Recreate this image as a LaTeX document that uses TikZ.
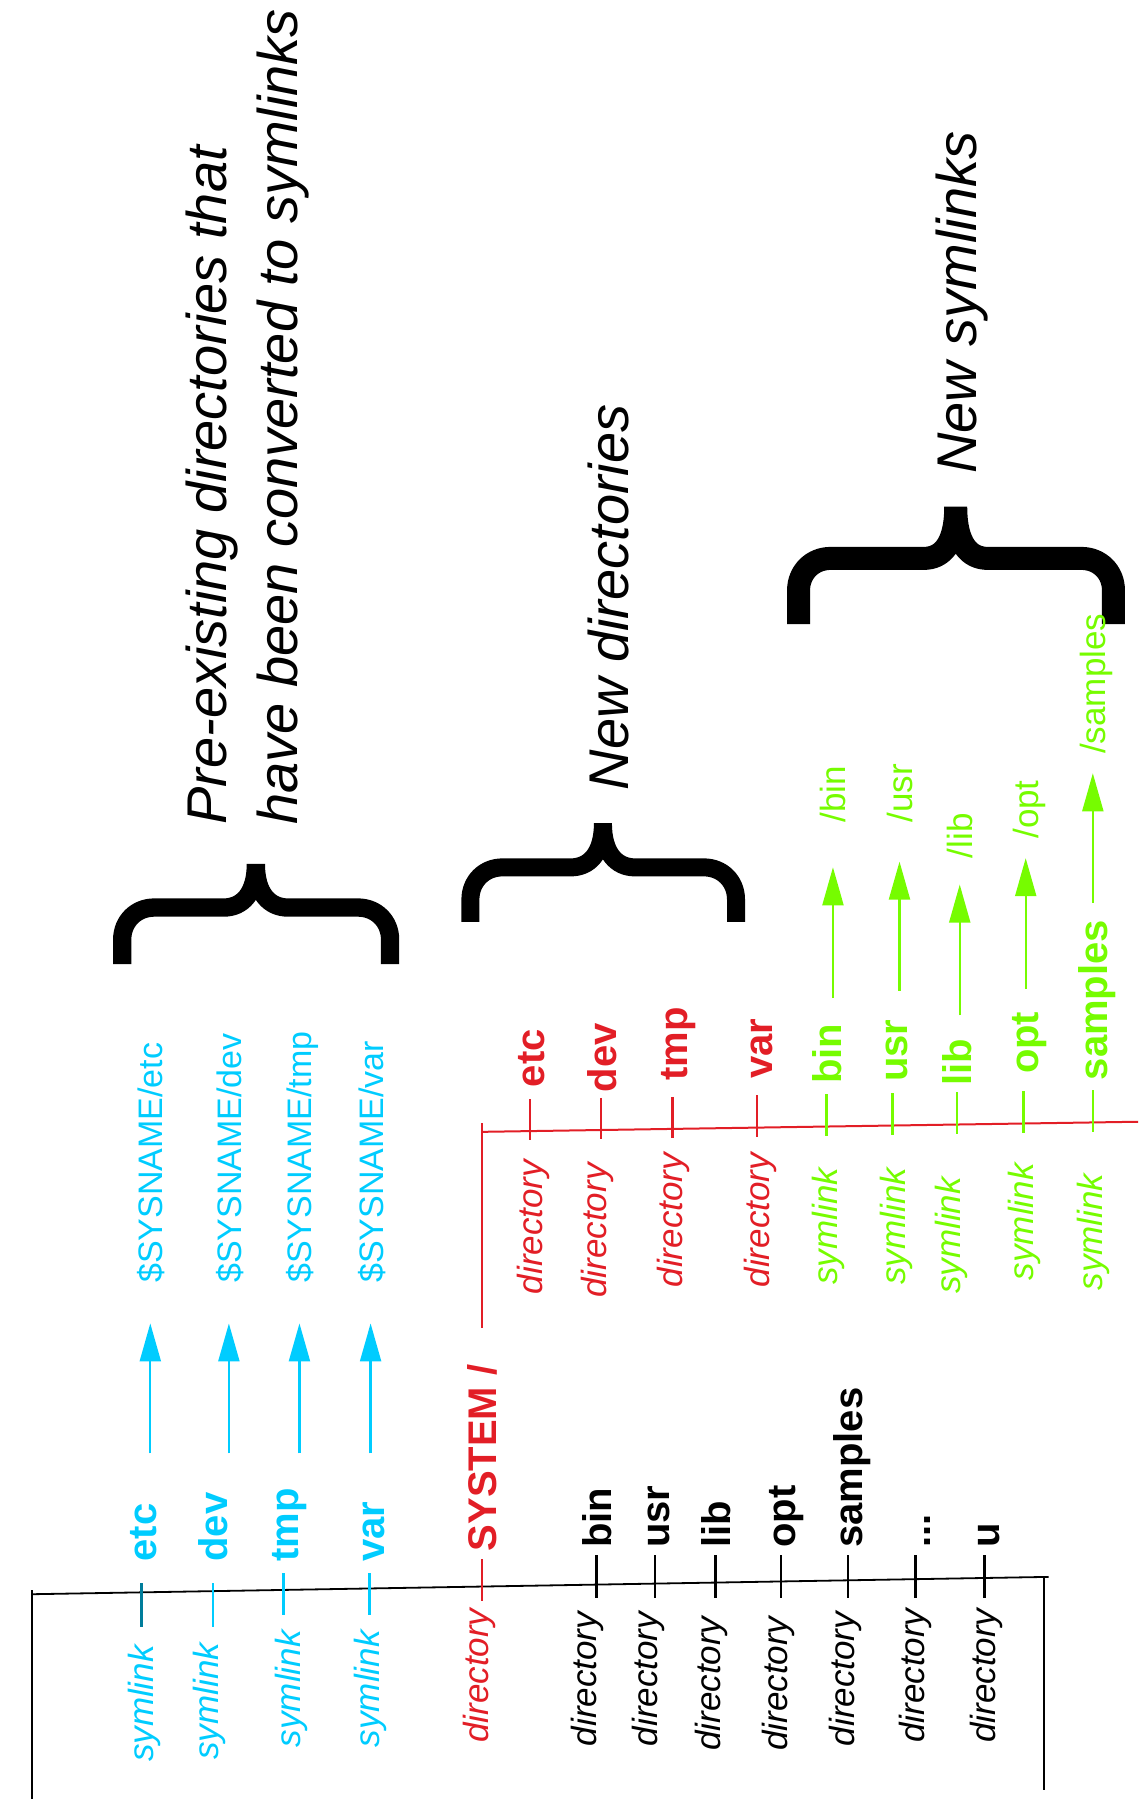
\documentclass[tikz,border=0pt]{standalone}
\usepackage{fontspec}
\setmainfont{Liberation Sans}
\usetikzlibrary{arrows.meta}
\definecolor{cy}{RGB}{0,204,255}
\definecolor{cydk}{RGB}{0,125,155}
\definecolor{rd}{RGB}{226,30,38}
\definecolor{gr}{RGB}{118,252,0}
\newcommand\curlybrace[7]{% L R C B Y T width
  \draw[bracestyle, line width=#7] (#1,#4) -- (#1,#5+28)
    .. controls (#1,#5+12) and (#1+12,#5) .. (#1+28,#5)
    -- (#3-28,#5)
    .. controls (#3-12,#5) and (#3,#5-12) .. (#3,#6)
    .. controls (#3,#5-12) and (#3+12,#5) .. (#3+28,#5)
    -- (#2-28,#5)
    .. controls (#2-12,#5) and (#2,#5+12) .. (#2,#5+28)
    -- (#2,#4);}
\begin{document}
\begin{tikzpicture}[x=1.1472pt, y=-1.1472pt,
  nm/.style={rotate=90, anchor=west, inner sep=0pt, outer sep=0pt, text height=29.6pt, text depth=0pt, font=\fontsize{40}{48}\selectfont\bfseries},
  ty/.style={rotate=90, anchor=east, inner sep=0pt, outer sep=0pt, text height=25.5pt, text depth=7.4pt, font=\fontsize{35}{42}\selectfont\itshape},
  tg/.style={rotate=90, anchor=west, inner sep=0pt, outer sep=0pt, text height=25pt, text depth=0pt, font=\fontsize{35}{42}\selectfont},
  tgc/.style={tg, font=\fontsize{34}{41}\selectfont},
  hd/.style={rotate=90, anchor=base west, inner sep=0pt, font=\fontsize{56}{67}\selectfont\itshape},
  tk/.style={line width=2.4pt},
  trunk/.style={line width=1.8pt},
  arr/.style={line width=2.2pt, -{Triangle[length=38pt,width=21pt]}},
  bracestyle/.style={line join=bevel, line cap=butt},
]
\useasboundingbox (0,0) rectangle (992,1568);

% ---------- headings and braces ----------
\node[hd] (h1a) at (197,719) {Pre-existing directories that};
\node[hd] (h1b) at (259,719) {have been converted to symlinks};
\node[hd] (h2) at (547.5,689) {New directories};
\node[hd] (h3) at (851,413) {New symlinks};
\curlybrace{106.5}{340}{223}{840.3}{791}{753.2}{18.3pt}
\curlybrace{410}{641.5}{525.5}{803.6}{756}{717.6}{18pt}
\curlybrace{696}{970.5}{833}{544}{486.7}{441.7}{23pt}

% ---------- black trunk ----------
\coordinate (bTL) at (28,1386);
\coordinate (bBL) at (28,1568);
\coordinate (bHL) at (28,1389.5);
\coordinate (bHR) at (914,1374.4);
\coordinate (bTR) at (910,1374.4);
\coordinate (bBR) at (910,1560);
\draw[trunk] (bTL) -- (bBL);
\draw[trunk] (bHL) -- (bHR);
\draw[trunk] (bTR) -- (bBR);

% ---------- cyan symlinks ----------
\node[nm, cy] (cN1) at (123.4,1361) {etc};
\node[ty, cy] (cT1) at (126,1434) {symlink};
\node[tgc, cy] (cG1) at (131,1118) {\$SYSNAME/etc};
\draw[tk, cydk, shorten <=21.8pt, shorten >=18.4pt] (cN1.west) -- (cN1.west |- cT1.east);
\draw[arr, cy, shorten <=50.3pt, shorten >=40.7pt] (cG1.west |- cN1.east) -- (cG1.west);

\node[nm, cy] (cN2) at (185.5,1361) {dev};
\node[ty, cy] (cT2) at (182.5,1432) {symlink};
\node[tgc, cy] (cG2) at (199.5,1118) {\$SYSNAME/dev};
\draw[tk, cy, shorten <=21.8pt, shorten >=16.1pt] (cN2.west) -- (cN2.west |- cT2.east);
\draw[arr, cy, shorten <=39.2pt, shorten >=40.7pt] (cG2.west |- cN2.east) -- (cG2.west);

\node[nm, cy] (cN3) at (247,1361) {tmp};
\node[ty, cy] (cT3) at (254,1421) {symlink};
\node[tgc, cy] (cG3) at (261,1118) {\$SYSNAME/tmp};
\draw[tk, cy, shorten <=11.5pt, shorten >=14.9pt] (cN3.west) -- (cN3.west |- cT3.east);
\draw[arr, cy, shorten <=34.8pt, shorten >=40.7pt] (cG3.west |- cN3.east) -- (cG3.west);

\node[nm, cy] (cN4) at (322,1361) {var};
\node[ty, cy] (cT4) at (322.6,1421) {symlink};
\node[tgc, cy] (cG4) at (323,1118) {\$SYSNAME/var};
\draw[tk, cy, shorten <=11.5pt, shorten >=14.9pt] (cN4.west) -- (cN4.west |- cT4.east);
\draw[arr, cy, shorten <=48.1pt, shorten >=40.7pt] (cG4.west |- cN4.east) -- (cG4.west);

% ---------- SYSTEM ----------
\node[nm, rd] (sys) at (420,1352) {SYSTEM /};
\node[ty, rd] (sysT) at (417.6,1402) {directory};
\draw[tk, rd, shorten <=8pt, shorten >=8pt] (sys.west) -- (sys.west |- sysT.east);

% ---------- black directories ----------
\node[nm] (k1) at (520,1349) {bin};
\node[ty] (k1t) at (512,1405) {directory};
\draw[tk, shorten <=7.5pt, shorten >=13.8pt] (k1.west) -- (k1.west |- k1t.east);
\node[nm] (k2) at (571,1349) {usr};
\node[ty] (k2t) at (565,1405) {directory};
\draw[tk, shorten <=7.5pt, shorten >=13.8pt] (k2.west) -- (k2.west |- k2t.east);
\node[nm] (k3) at (623.5,1349) {lib};
\node[ty] (k3t) at (620,1409) {directory};
\draw[tk, shorten <=7.5pt, shorten >=18.4pt] (k3.west) -- (k3.west |- k3t.east);
\node[nm] (k4) at (680.5,1349) {opt};
\node[ty] (k4t) at (678.8,1409) {directory};
\draw[tk, shorten <=7.5pt, shorten >=18.4pt] (k4.west) -- (k4.west |- k4t.east);
\node[nm] (k5) at (739,1349) {samples};
\node[ty] (k5t) at (737.3,1405) {directory};
\draw[tk, shorten <=7.5pt, shorten >=13.8pt] (k5.west) -- (k5.west |- k5t.east);
\node[nm] (k6) at (798,1349) {...};
\node[ty] (k6t) at (797.6,1402) {directory};
\draw[tk, shorten <=7.5pt, shorten >=10.3pt] (k6.west) -- (k6.west |- k6t.east);
\node[nm] (k7) at (858,1349) {u};
\node[ty] (k7t) at (860,1402) {directory};
\draw[tk, shorten <=7.5pt, shorten >=10.3pt] (k7.west) -- (k7.west |- k7t.east);

% ---------- red trunk ----------
\coordinate (rTop) at (420,979);
\coordinate (rHL) at (420,986.5);
\coordinate (rHR) at (992,977.7);
\draw[trunk, rd, line width=2pt, shorten <=36.9pt] (sys.east) -- (sys.east |- rTop);
\draw[trunk, rd, line width=2pt] (rHL) -- (rHR);

% ---------- new directories ----------
\node[nm, rd] (r1) at (462,947.5) {etc};
\node[ty, rd] (r1t) at (465,1011) {directory};
\draw[tk, rd, shorten <=11.9pt, shorten >=19.6pt] (r1.west) -- (r1.west |- r1t.east);
\node[nm, rd] (r2) at (524,952) {dev};
\node[ty, rd] (r2t) at (520.4,1014) {directory};
\draw[tk, rd, shorten <=5.6pt, shorten >=24.2pt] (r2.west) -- (r2.west |- r2t.east);
\node[nm, rd] (r3) at (586,942) {tmp};
\node[ty, rd] (r3t) at (587.3,1005) {directory};
\draw[tk, rd, shorten <=16.1pt, shorten >=14.9pt] (r3.west) -- (r3.west |- r3t.east);
\node[nm, rd] (r4) at (660,940) {var};
\node[ty, rd] (r4t) at (662.7,1005) {directory};
\draw[tk, rd, shorten <=17pt, shorten >=16.3pt] (r4.west) -- (r4.west |- r4t.east);

% ---------- new symlinks ----------
\node[nm, gr] (g1) at (720.5,944.5) {bin};
\node[ty, gr] (g1t) at (722,1018) {symlink};
\node[tg, gr] (g1g) at (726,717) {/bin};
\draw[tk, gr, shorten <=10.8pt, shorten >=32.2pt] (g1.west) -- (g1.west |- g1t.east);
\draw[arr, gr, shorten <=25.5pt, shorten >=44.7pt] (g1g.west |- g1.east) -- (g1g.west);

\node[nm, gr] (g2) at (778,943) {usr};
\node[ty, gr] (g2t) at (781.3,1018) {symlink};
\node[tg, gr] (g2g) at (784,717) {/usr};
\draw[tk, gr, shorten <=11.5pt, shorten >=33.3pt] (g2.west) -- (g2.west |- g2t.east);
\draw[arr, gr, shorten <=28.9pt, shorten >=39pt] (g2g.west |- g2.east) -- (g2g.west);

\node[nm, gr] (g3) at (834,946) {lib};
\node[ty, gr] (g3t) at (829,1026) {symlink};
\node[tg, gr] (g3g) at (836.5,748) {/lib};
\draw[tk, gr, shorten <=7pt, shorten >=43.5pt] (g3.west) -- (g3.west |- g3t.east);
\draw[arr, gr, shorten <=23.3pt, shorten >=26.4pt] (g3g.west |- g3.east) -- (g3g.west);

\node[nm, gr] (g4) at (892,936) {opt};
\node[ty, gr] (g4t) at (893.3,1014) {symlink};
\node[tg, gr] (g4g) at (894,731) {/opt};
\draw[tk, gr, shorten <=17.4pt, shorten >=30.7pt] (g4.west) -- (g4.west |- g4t.east);
\draw[arr, gr, shorten <=22.7pt, shorten >=19.5pt] (g4g.west |- g4.east) -- (g4g.west);

\node[nm, gr] (g5) at (952.7,941.5) {samples};
\node[ty, gr] (g5t) at (953.4,1023) {symlink};
\node[tg, gr] (g5g) at (952.5,657) {/samples};
\draw[tk, gr, shorten <=10.1pt, shorten >=42.1pt] (g5.west) -- (g5.west |- g5t.east);
\draw[arr, gr, shorten <=17.2pt, shorten >=19.5pt] (g5g.west |- g5.east) -- (g5g.west);
\end{tikzpicture}
\end{document}
